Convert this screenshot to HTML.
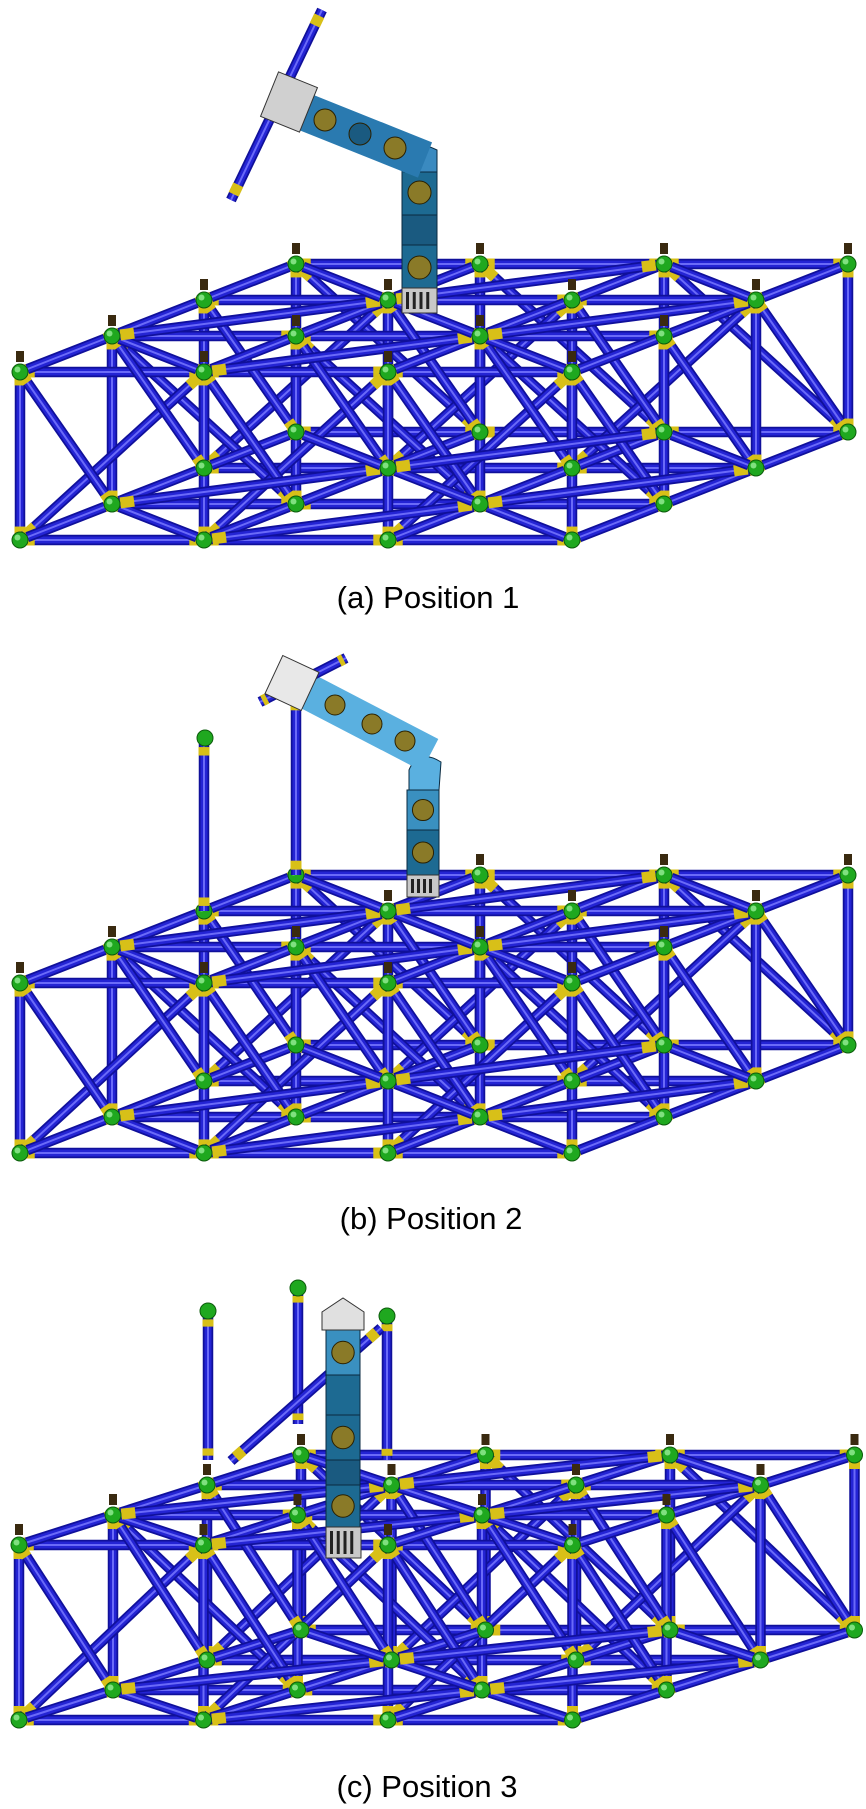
<!DOCTYPE html>
<html><head><meta charset="utf-8">
<style>
html,body{margin:0;padding:0;background:#fff;}
body{width:866px;height:1809px;position:relative;overflow:hidden;}
svg{position:absolute;left:0;top:0;}
.cap{position:absolute;left:0;width:866px;text-align:center;font-family:"Liberation Sans",Arial,sans-serif;font-size:31px;color:#000;}
</style></head>
<body>
<svg id="s" width="866" height="1809" viewBox="0 0 866 1809"></svg>
<div class="cap" style="top:580px;left:-5px">(a) Position 1</div>
<div class="cap" style="top:1201px;left:-2px">(b) Position 2</div>
<div class="cap" style="top:1769px;left:-6px">(c) Position 3</div>
<script>
var s=document.getElementById('s');var NS='http://www.w3.org/2000/svg';
function el(t,a){var e=document.createElementNS(NS,t);for(var k in a)e.setAttribute(k,a[k]);s.appendChild(e);return e;}
function rod(a,b){
  el('line',{x1:a[0],y1:a[1],x2:b[0],y2:b[1],stroke:'#10109a','stroke-width':10.5});
  el('line',{x1:a[0],y1:a[1],x2:b[0],y2:b[1],stroke:'#2424d4','stroke-width':7});
  el('line',{x1:a[0],y1:a[1],x2:b[0],y2:b[1],stroke:'#6a6af8','stroke-width':2});
  var dx=b[0]-a[0],dy=b[1]-a[1];
  [[0.03,0.08],[0.92,0.97]].forEach(function(t){
    el('line',{x1:a[0]+dx*t[0],y1:a[1]+dy*t[0],x2:a[0]+dx*t[1],y2:a[1]+dy*t[1],stroke:'#d8c018','stroke-width':11});
  });
}
function truss(O,ex,edx,edy,h){
  function P(i,j,k){return [O[0]+i*ex+j*edx,O[1]+j*edy-k*h];}
  var i,j,k;
  for(j=3;j>=0;j--){
    for(k=0;k<2;k++)for(i=0;i<3;i++)rod(P(i,j,k),P(i+1,j,k));
    for(i=0;i<4;i++)rod(P(i,j,0),P(i,j,1));
    for(i=0;i<3;i++){ if(j%2==0)rod(P(i,j,0),P(i+1,j,1)); else rod(P(i,j,1),P(i+1,j,0)); }
  }
  for(i=0;i<4;i++)for(j=0;j<3;j++){
    for(k=0;k<2;k++)rod(P(i,j,k),P(i,j+1,k));
    rod(P(i,j,1),P(i,j+1,0));
  }
  for(j=0;j<3;j++)for(i=0;i<3;i++){
    for(k=0;k<2;k++){ if((i+j)%2==0)rod(P(i+1,j,k),P(i,j+1,k)); else rod(P(i,j,k),P(i+1,j+1,k)); }
  }
  for(j=0;j<4;j++)for(i=0;i<4;i++){
    for(k=0;k<2;k++){var p=P(i,j,k);
      if(k==1){el('rect',{x:p[0]-4,y:p[1]-21,width:8,height:11,fill:'#3a2a10'});}
      el('circle',{cx:p[0],cy:p[1],r:8,fill:'#1fa81f',stroke:'#0c5c0c','stroke-width':1});
      el('circle',{cx:p[0]-2.5,cy:p[1]-2.5,r:3,fill:'#7fe07f'});
    }
  }
  return P;
}
function ball(x,y){el('circle',{cx:x,cy:y,r:8,fill:'#1fa81f',stroke:'#0c5c0c'});}
function module(x,y,w,hh,col){
  el('rect',{x:x,y:y,width:w,height:hh,fill:col,stroke:'#0a2a40','stroke-width':1});
  el('circle',{cx:x+w/2,cy:y+hh/2,r:Math.min(w,hh)*0.33,fill:'#8a7a28',stroke:'#2a2000'});
}
function grip(x,y,w,hh){el('rect',{x:x,y:y,width:w,height:hh,fill:'#c8c8c8',stroke:'#333'});
  for(var q=0;q<4;q++)el('rect',{x:x+4+q*(w-8)/4,y:y+4,width:3,height:hh-8,fill:'#222'});}
/* panel a */
truss([20,540],184,92,-36,168);
module(402,170,35,45,'#1d6a92');el('rect',{x:402,y:215,width:35,height:30,fill:'#1a5a80',stroke:'#0a2a40'});module(402,245,35,45,'#1d6a92');
grip(402,288,35,25);
el('path',{d:'M404 172 L404 150 Q412 138 437 150 L437 172 Z',fill:'#3a8ac0',stroke:'#0a2a40'});
el('line',{x1:305,y1:112,x2:425,y2:160,stroke:'#2a7ab0','stroke-width':38});
[[325,120],[360,134],[395,148]].forEach(function(c,n){el('circle',{cx:c[0],cy:c[1],r:11,fill:n==1?'#1a5a80':'#8a7a28',stroke:'#2a2000'});});
rod([322,10],[231,200]);
el('rect',{x:268,y:78,width:42,height:48,fill:'#d0d0d0',stroke:'#333',transform:'rotate(22 289 102)'});
/* panel b */
truss([20,1153],184,92,-36,170);
rod([204,911],[204,742]);ball(205,738);
rod([296,875],[296,696]);ball(296,692);
module(407,790,32,40,'#3a90c0');module(407,830,32,45,'#1d6a92');grip(407,875,32,22);
el('path',{d:'M409 790 L409 770 Q418 748 441 762 L439 790 Z',fill:'#5ab0e0',stroke:'#0a2a40'});
el('line',{x1:305,y1:690,x2:430,y2:755,stroke:'#5ab0e0','stroke-width':36});
[[335,705],[372,724],[405,741]].forEach(function(c){el('circle',{cx:c[0],cy:c[1],r:10,fill:'#8a7a28',stroke:'#2a2000'});});
rod([260,702],[346,658]);
el('rect',{x:272,y:662,width:40,height:42,fill:'#e8e8e8',stroke:'#333',transform:'rotate(25 292 683)'});
/* panel c */
truss([19,1720],184.5,94,-30,175);
rod([208,1460],[208,1315]);ball(208,1311);
rod([298,1424],[298,1292]);ball(298,1288);
rod([387,1460],[387,1320]);ball(387,1316);
rod([231,1461],[381,1328]);
module(326,1330,34,45,'#3a90c0');el('rect',{x:326,y:1375,width:34,height:40,fill:'#1d6a92',stroke:'#0a2a40'});
module(326,1415,34,45,'#1d6a92');el('rect',{x:326,y:1460,width:34,height:25,fill:'#1a5a80',stroke:'#0a2a40'});
module(326,1485,34,42,'#1d6a92');grip(326,1527,35,31);
el('path',{d:'M322 1330 L322 1312 L343 1298 L364 1312 L364 1330 Z',fill:'#e0e0e0',stroke:'#333'});
</script>
</body></html>
